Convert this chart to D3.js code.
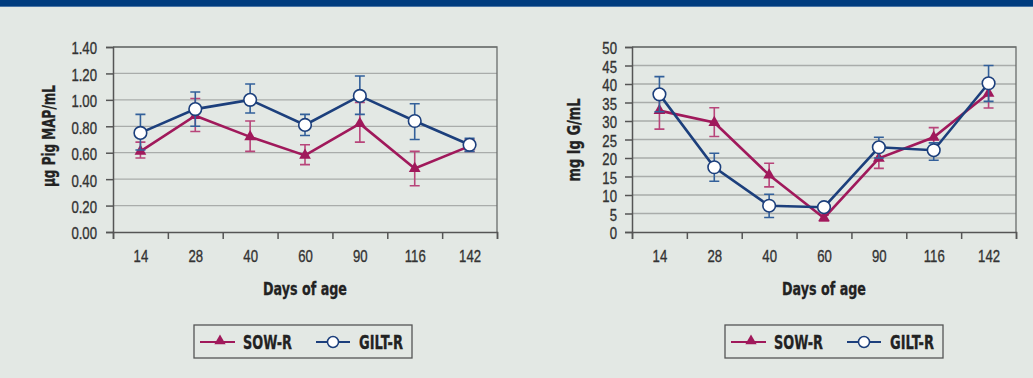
<!DOCTYPE html>
<html>
<head>
<meta charset="utf-8">
<script src="https://cdn.jsdelivr.net/npm/d3@7"></script>
<style>
  body { margin: 0; background: #e3e8e4; }
  svg { display: block; font-family: "DejaVu Sans", sans-serif; }
</style>
</head>
<body>
<div id="chart"></div>
<script>
// categories
var days = ["14", "28", "40", "60", "90", "116", "142"];

// left panel: Pig MAP (ug/mL)
var mapSow   = [0.61, 0.88, 0.72, 0.58, 0.82, 0.48, 0.65];
var mapSowLo = [0.56, 0.76, 0.61, 0.51, 0.68, 0.35, 0.61];
var mapSowHi = [0.68, 1.01, 0.84, 0.66, 0.98, 0.61, 0.70];
var mapGilt   = [0.75, 0.93, 1.00, 0.81, 1.03, 0.84, 0.66];
var mapGiltLo = [0.62, 0.80, 0.90, 0.73, 0.89, 0.70, 0.61];
var mapGiltHi = [0.89, 1.06, 1.12, 0.89, 1.18, 0.97, 0.71];
var mapTicks = [0, 0.2, 0.4, 0.6, 0.8, 1.0, 1.2, 1.4];

// right panel: Ig G (mg/mL)
var igSow   = [32.8, 29.6, 15.4, 3.8, 19.9, 25.6, 37.5];
var igSowLo = [27.8, 25.8, 12.2, 3.0, 17.2, 23.0, 33.5];
var igSowHi = [37.0, 33.6, 18.6, 4.6, 22.6, 28.2, 40.2];
var igGilt   = [37.2, 17.5, 7.1, 6.7, 22.9, 22.1, 40.2];
var igGiltLo = [32.5, 13.7, 3.9, 5.8, 20.0, 19.4, 35.3];
var igGiltHi = [42.0, 21.3, 10.2, 7.6, 25.6, 24.1, 45.0];
var igTicks = [0, 5, 10, 15, 20, 25, 30, 35, 40, 45, 50];

var sowColor = "#a0195b", sowErr = "#b8457a";
var giltColor = "#1c3f7c", giltErr = "#33609a";

var svg = d3.select("#chart").append("svg")
    .attr("width", 1033)
    .attr("height", 378);

svg.append("rect").attr("width", 1033).attr("height", 378).attr("fill", "#e3e8e4");
svg.append("rect").attr("width", 1033).attr("height", 7).attr("fill", "#003c7e");
svg.append("rect").attr("y", 6).attr("width", 1033).attr("height", 1).attr("fill", "#4a75a6");

// squeeze text horizontally, the original uses a condensed face
function condense(sel, sx) {
    sel.each(function () {
        var t = d3.select(this);
        var tx = +t.attr("x") || 0, ty = +t.attr("y") || 0;
        t.attr("x", 0).attr("y", 0)
            .attr("transform", "translate(" + tx + "," + ty + ") scale(" + sx + ",1)");
    });
}

function drawPanel(opt) {
    var g = svg.append("g");
    var x0 = opt.left, x1 = opt.left + 384, y0 = 232, y1 = 47;

    var x = d3.scalePoint().domain(days).range([x0, x1]).padding(0.5);
    var xb = d3.scaleLinear().domain([0, days.length]).range([x0, x1]);
    var y = d3.scaleLinear().domain([opt.ticks[0], opt.ticks[opt.ticks.length - 1]]).range([y0, y1]);

    // grid
    g.selectAll(".grid").data(opt.ticks.slice(1)).enter().append("line")
        .attr("x1", x0).attr("x2", x1)
        .attr("y1", function (d) { return y(d); }).attr("y2", function (d) { return y(d); })
        .attr("stroke", "#a9acaa").attr("stroke-width", 1.3);

    // frame top/right
    g.append("path")
        .attr("d", "M" + x0 + "," + y1 + "H" + x1 + "V" + y0)
        .attr("fill", "none").attr("stroke", "#6a6d6b").attr("stroke-width", 1.3);

    var yAxis = d3.axisLeft(y).tickValues(opt.ticks).tickSize(7).tickPadding(opt.tickPad).tickFormat(opt.fmt);
    var gy = g.append("g").attr("transform", "translate(" + x0 + ",0)").call(yAxis);
    gy.select(".domain").attr("stroke", "#555").attr("stroke-width", 1.5);
    gy.selectAll(".tick line").attr("stroke", "#555").attr("stroke-width", 1.5);
    gy.selectAll(".tick text").attr("font-size", 17.3).attr("fill", "#333")
        .attr("stroke", "#333").attr("stroke-width", 0.35).attr("dy", "0.4em").call(condense, 0.76);

    var xTicks = d3.axisBottom(xb).tickValues(d3.range(days.length + 1)).tickSize(7).tickFormat("");
    var gx = g.append("g").attr("transform", "translate(0," + y0 + ")").call(xTicks);
    gx.select(".domain").attr("stroke", "#555").attr("stroke-width", 1.5);
    gx.selectAll(".tick line").attr("stroke", "#555").attr("stroke-width", 1.5);

    var xLabels = d3.axisBottom(x).tickSize(0).tickPadding(18);
    var gl = g.append("g").attr("transform", "translate(0," + y0 + ")").call(xLabels);
    gl.select(".domain").remove();
    gl.selectAll(".tick text").attr("font-size", 17.3).attr("fill", "#333")
        .attr("stroke", "#333").attr("stroke-width", 0.35).call(condense, 0.76);

    g.append("text")
        .attr("x", (x0 + x1) / 2).attr("y", 295)
        .attr("text-anchor", "middle")
        .attr("font-size", 17.5).attr("font-weight", "bold").attr("fill", "#222")
        .attr("stroke", "#222").attr("stroke-width", 0.3)
        .attr("textLength", 84).attr("lengthAdjust", "spacingAndGlyphs")
        .text("Days of age");

    g.append("text")
        .attr("transform", "translate(" + opt.labelX + "," + opt.labelY + ") rotate(-90)")
        .attr("text-anchor", "middle")
        .attr("font-size", 17).attr("font-weight", "bold").attr("fill", "#222")
        .attr("stroke", "#222").attr("stroke-width", 0.3)
        .attr("textLength", opt.labelLen).attr("lengthAdjust", "spacingAndGlyphs")
        .text(opt.label);

    var series = [
        {v: opt.sow, lo: opt.sowLo, hi: opt.sowHi, color: sowColor, err: sowErr, shape: "tri"},
        {v: opt.gilt, lo: opt.giltLo, hi: opt.giltHi, color: giltColor, err: giltErr, shape: "circ"}
    ];

    var line = d3.line()
        .x(function (d, i) { return x(days[i]); })
        .y(function (d) { return y(d); });

    series.forEach(function (s) {
        var eb = g.append("g");
        days.forEach(function (day, i) {
            var cx = x(day);
            eb.append("path")
                .attr("d", "M" + cx + "," + y(s.lo[i]) + "V" + y(s.hi[i]) +
                    "M" + (cx - 5) + "," + y(s.lo[i]) + "H" + (cx + 5) +
                    "M" + (cx - 5) + "," + y(s.hi[i]) + "H" + (cx + 5))
                .attr("fill", "none").attr("stroke", s.err).attr("stroke-width", 1.6);
        });
        g.append("path").datum(s.v)
            .attr("d", line)
            .attr("fill", "none").attr("stroke", s.color).attr("stroke-width", 2.6);
        if (s.shape === "tri") {
            g.selectAll(null).data(s.v).enter().append("path")
                .attr("d", d3.symbol(d3.symbolTriangle, 60))
                .attr("transform", function (d, i) { return "translate(" + x(days[i]) + "," + y(d) + ")"; })
                .attr("fill", s.color);
        } else {
            g.selectAll(null).data(s.v).enter().append("circle")
                .attr("cx", function (d, i) { return x(days[i]); })
                .attr("cy", function (d) { return y(d); })
                .attr("r", 6.3)
                .attr("fill", "#fff").attr("stroke", s.color).attr("stroke-width", 1.6);
        }
    });

    // legend
    var lg = g.append("g").attr("transform", "translate(" + opt.legendX + ",325)");
    lg.append("rect").attr("width", 218).attr("height", 33)
        .attr("fill", "none").attr("stroke", "#555").attr("stroke-width", 1.3);
    lg.append("line").attr("x1", 6).attr("x2", 41).attr("y1", 17).attr("y2", 17)
        .attr("stroke", sowColor).attr("stroke-width", 1.8);
    lg.append("path").attr("d", d3.symbol(d3.symbolTriangle, 55))
        .attr("transform", "translate(26,16)").attr("fill", sowColor);
    lg.append("text").attr("x", 49).attr("y", 24)
        .attr("font-size", 19).attr("font-weight", "bold").attr("fill", "#222")
        .attr("stroke", "#222").attr("stroke-width", 0.3)
        .attr("textLength", 49).attr("lengthAdjust", "spacingAndGlyphs").text("SOW-R");
    lg.append("line").attr("x1", 122).attr("x2", 156).attr("y1", 17).attr("y2", 17)
        .attr("stroke", giltColor).attr("stroke-width", 1.8);
    lg.append("circle").attr("cx", 139).attr("cy", 17).attr("r", 5.5)
        .attr("fill", "#fff").attr("stroke", giltColor).attr("stroke-width", 1.5);
    lg.append("text").attr("x", 165).attr("y", 24)
        .attr("font-size", 19).attr("font-weight", "bold").attr("fill", "#222")
        .attr("stroke", "#222").attr("stroke-width", 0.3)
        .attr("textLength", 44).attr("lengthAdjust", "spacingAndGlyphs").text("GILT-R");
}

drawPanel({
    left: 113, ticks: mapTicks, fmt: d3.format(".2f"), tickPad: 9,
    label: "µg Pig MAP/mL", labelX: 55, labelY: 136, labelLen: 102,
    sow: mapSow, sowLo: mapSowLo, sowHi: mapSowHi,
    gilt: mapGilt, giltLo: mapGiltLo, giltHi: mapGiltHi, legendX: 194
});

drawPanel({
    left: 632, ticks: igTicks, fmt: d3.format("d"), tickPad: 8,
    label: "mg Ig G/mL", labelX: 580, labelY: 140, labelLen: 83,
    sow: igSow, sowLo: igSowLo, sowHi: igSowHi,
    gilt: igGilt, giltLo: igGiltLo, giltHi: igGiltHi, legendX: 725
});
</script>
</body>
</html>
